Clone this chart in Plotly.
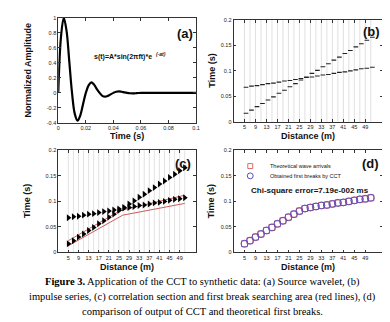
import plotly.graph_objects as go

W, H = 390, 322

# ---------------- data ----------------
# (a) source wavelet
wav_t = [0.000, 0.002, 0.004, 0.006, 0.008, 0.010, 0.012, 0.014, 0.016, 0.018,
         0.020, 0.022, 0.024, 0.026, 0.028, 0.030, 0.032, 0.034, 0.036, 0.038,
         0.040, 0.042, 0.044, 0.046, 0.048, 0.050, 0.052, 0.054, 0.056, 0.058,
         0.060, 0.070, 0.080, 0.090, 0.100]
wav_a = [0.00, 0.75, 1.00, 0.83, 0.42, 0.00, -0.28, -0.37, -0.30, -0.15,
         0.00, 0.10, 0.14, 0.11, 0.05, 0.00, -0.04, -0.05, -0.04, -0.02,
         0.00, 0.015, 0.02, 0.015, 0.007, 0.00, -0.005, -0.007, -0.005, -0.002,
         0.00, 0.00, 0.00, 0.00, 0.00]

# receivers (m)
dist = [5, 7, 9, 11, 13, 15, 17, 19, 21, 23, 25, 27,
        29, 31, 33, 35, 37, 39, 41, 43, 45, 47, 49, 51]
# direct-wave impulse times (s)
t_direct = [0.017, 0.023, 0.030, 0.036, 0.043, 0.049, 0.056, 0.062, 0.069, 0.075, 0.082, 0.088,
            0.095, 0.101, 0.108, 0.114, 0.121, 0.127, 0.134, 0.140, 0.147, 0.153, 0.160, 0.166]
# refracted-wave impulse times (s)
t_refr = [0.068, 0.070, 0.071, 0.073, 0.075, 0.076, 0.078, 0.080, 0.081, 0.083, 0.085, 0.087,
          0.088, 0.090, 0.092, 0.093, 0.095, 0.097, 0.098, 0.100, 0.102, 0.104, 0.105, 0.107]

# (c) search-area limits (red lines)
upper_x = [5, 25.5, 51]
upper_y = [0.023, 0.082, 0.112]
lower_x = [5, 26.5, 51]
lower_y = [0.013, 0.073, 0.096]

# (d) theoretical arrivals and CCT picks
t_theory = [0.017, 0.023, 0.030, 0.036, 0.043, 0.049, 0.056, 0.062, 0.069, 0.075, 0.081, 0.086,
            0.088, 0.090, 0.092, 0.093, 0.095, 0.097, 0.098, 0.100, 0.102, 0.104, 0.105, 0.107]
t_cct = [0.017, 0.023, 0.030, 0.036, 0.043, 0.049, 0.056, 0.062, 0.069, 0.075, 0.081, 0.086,
         0.088, 0.090, 0.092, 0.093, 0.095, 0.097, 0.098, 0.100, 0.102, 0.104, 0.105, 0.107]

dist_ticks = [5, 9, 13, 17, 21, 25, 29, 33, 37, 41, 45, 49]
time_ticks = [0, 0.05, 0.1, 0.15, 0.2]
time_labels = ["0", "0.05", "0.1", "0.15", "0.2"]
amp_ticks = [-0.4, -0.2, 0, 0.2, 0.4, 0.6, 0.8, 1]
amp_labels = ["-0.4", "-0.2", "0", "0.2", "0.4", "0.6", "0.8", "1"]
wt_ticks = [0, 0.02, 0.04, 0.06, 0.08, 0.1]
wt_labels = ["0", "0.02", "0.04", "0.06", "0.08", "0.1"]

# ---------------- layout helpers ----------------
def px(x):
    return x / W

def py(y):
    return 1 - y / H

boxes = {
    "a": (49, 189, 7, 114),
    "b": (227, 379, 9, 113),
    "c": (49, 189, 142, 246),
    "d": (227, 379, 142, 246),
}

TICKFONT = dict(family="Liberation Sans", size=5.5, color="#222")

fig = go.Figure()

# (a) wavelet
fig.add_trace(go.Scatter(x=wav_t, y=wav_a, mode="lines",
                         line=dict(color="black", width=2.2, shape="spline", smoothing=1.0),
                         xaxis="x", yaxis="y", showlegend=False))

# (b) trace lines + impulses
gx, gy = [], []
for d in dist:
    gx += [d, d, None]
    gy += [0, 0.2, None]
fig.add_trace(go.Scatter(x=gx, y=gy, mode="lines", line=dict(color="#d8d8d8", width=0.8),
                         xaxis="x2", yaxis="y2", showlegend=False, hoverinfo="skip"))
ix, iy = [], []
for d, t1, t2 in zip(dist, t_direct, t_refr):
    for t in (t1, t2):
        ix += [d - 0.3, d + 1.4, None]
        iy += [t, t, None]
fig.add_trace(go.Scatter(x=ix, y=iy, mode="lines", line=dict(color="#222", width=1.1),
                         xaxis="x2", yaxis="y2", showlegend=False))

# (c) correlation section
fig.add_trace(go.Scatter(x=gx, y=gy, mode="lines", line=dict(color="#cfcfcf", width=0.6),
                         xaxis="x3", yaxis="y3", showlegend=False, hoverinfo="skip"))
fig.add_trace(go.Scatter(x=upper_x, y=upper_y, mode="lines", line=dict(color="#d05a5a", width=1),
                         xaxis="x3", yaxis="y3", showlegend=False))
fig.add_trace(go.Scatter(x=lower_x, y=lower_y, mode="lines", line=dict(color="#d05a5a", width=1),
                         xaxis="x3", yaxis="y3", showlegend=False))
fig.add_trace(go.Scatter(x=dist + dist, y=t_direct + t_refr, mode="markers",
                         marker=dict(symbol="triangle-right", size=6, color="black"),
                         xaxis="x3", yaxis="y3", showlegend=False))

# (d) comparison
fig.add_trace(go.Scatter(x=dist, y=t_theory, mode="markers",
                         marker=dict(symbol="square-open", size=6, color="#e06a6a", line=dict(width=1)),
                         xaxis="x4", yaxis="y4", showlegend=False))
fig.add_trace(go.Scatter(x=dist, y=t_cct, mode="markers",
                         marker=dict(symbol="circle-open", size=7, color="#5a4fc0", line=dict(width=1)),
                         xaxis="x4", yaxis="y4", showlegend=False))

def axis_pair(key, xr, yr, xt, yt, xtxt, ytxt, n):
    x0, x1, y0, y1 = boxes[key]
    common = dict(showline=True, linecolor="#333", linewidth=0.8, mirror="ticks", ticks="inside",
                  ticklen=3, tickwidth=0.7, tickcolor="#333", showgrid=False, zeroline=False,
                  tickfont=TICKFONT)
    xa = dict(domain=[px(x0), px(x1)], range=xr, tickvals=xt, ticktext=xtxt, anchor="y" + n, **common)
    ya = dict(domain=[py(y1), py(y0)], range=yr, tickvals=yt, ticktext=ytxt, anchor="x" + n, **common)
    return xa, ya

dl = [str(v) for v in dist_ticks]
xa1, ya1 = axis_pair("a", [0, 0.1], [-0.4, 1.0], wt_ticks, amp_ticks, wt_labels, amp_labels, "")
xa2, ya2 = axis_pair("b", [1, 55.5], [0, 0.2], dist_ticks, time_ticks, dl, time_labels, "2")
xa3, ya3 = axis_pair("c", [1, 55.5], [0, 0.2], dist_ticks, time_ticks, dl, time_labels, "3")
xa4, ya4 = axis_pair("d", [1, 55.5], [0, 0.2], dist_ticks, time_ticks, dl, time_labels, "4")

annotations = []

def note(text, x, y, size, bold=False, xanchor="center", family="Liberation Sans", color="#111", angle=0):
    annotations.append(dict(text=("<b>%s</b>" % text) if bold else text, x=px(x), y=py(y),
                            xref="paper", yref="paper", xanchor=xanchor, yanchor="middle",
                            showarrow=False, textangle=angle,
                            font=dict(family=family, size=size, color=color)))

# axis titles
note("Normalized Amplitude", 18, 60, 9, True, angle=-90)
note("Time (s)", 119, 127, 9, True)
note("Time (s)", 205, 61, 9, True, angle=-90)
note("Distance (m)", 303, 127, 9, True)
note("Time (s)", 18, 194, 9, True, angle=-90)
note("Distance (m)", 119, 261, 9, True)
note("Time (s)", 205, 194, 9, True, angle=-90)
note("Distance (m)", 303, 261, 9, True)

# panel labels
note("(a)", 178, 23, 13, True)
note("(b)", 367, 21, 13, True)
note("(c)", 176, 155, 13, True)
note("(d)", 366, 155, 13, True)

# formula (exponent drawn as its own raised text)
note("s(t)=A*sin(2πft)*e", 146, 47, 7, True, xanchor="right")
note("<i>(-at)</i>", 146.3, 44, 5, True, xanchor="left")

# legend (d)
note("Theoretical wave arrivals", 262, 158, 5.5, False, xanchor="left")
note("Obtained first breaks by CCT", 262, 168, 5.5, False, xanchor="left")
note("Chi-square error=7.19e-002 ms", 305, 183, 8, True)

# caption
CAP = "Liberation Serif"
note("<b>Figure 3.</b> Application of the CCT to synthetic data: (a) Source wavelet, (b)", 195, 276, 10.5, False, family=CAP, color="#000")
note("impulse series, (c) correlation section and first break searching area (red lines), (d)", 195, 291, 10.5, False, family=CAP, color="#000")
note("comparison of output of CCT and theoretical first breaks.", 195, 306, 10.5, False, family=CAP, color="#000")

shapes = [
    dict(type="rect", xref="paper", yref="paper", x0=px(241.5), x1=px(246.5), y0=py(160.5), y1=py(155.5),
         line=dict(color="#e06a6a", width=1)),
    dict(type="circle", xref="paper", yref="paper", x0=px(241), x1=px(247), y0=py(171), y1=py(165),
         line=dict(color="#5a4fc0", width=1)),
]

fig.update_layout(
    width=W, height=H, margin=dict(l=0, r=0, t=0, b=0),
    paper_bgcolor="white", plot_bgcolor="white",
    xaxis=xa1, yaxis=ya1, xaxis2=xa2, yaxis2=ya2, xaxis3=xa3, yaxis3=ya3, xaxis4=xa4, yaxis4=ya4,
    annotations=annotations, shapes=shapes,
)

fig.write_html("out.html")
